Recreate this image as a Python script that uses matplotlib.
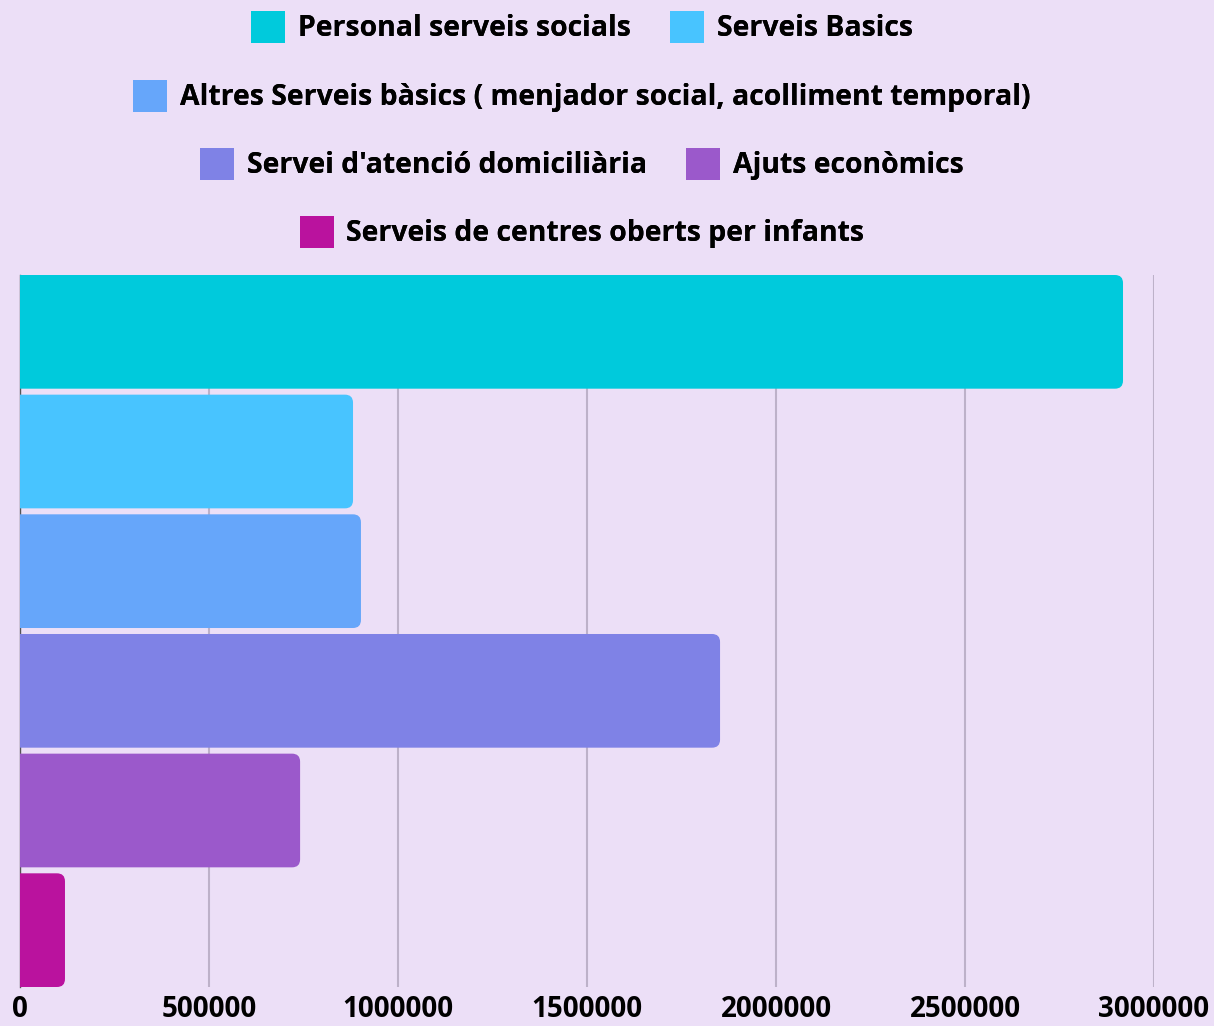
import matplotlib
matplotlib.use("Agg")
import matplotlib.pyplot as plt
from matplotlib.patches import FancyBboxPatch, Patch

categories = [
    "Personal serveis socials",
    "Serveis Basics",
    "Altres Serveis bàsics ( menjador social, acolliment temporal)",
    "Servei d'atenció domiciliària",
    "Ajuts econòmics",
    "Serveis de centres oberts per infants",
]
values = [2918000, 881000, 902000, 1852000, 741000, 119000]
colors = ["#00CADC", "#48C4FF", "#66A6FA", "#7F82E6", "#9B59CB", "#BA129E"]
tick_values = [0, 500000, 1000000, 1500000, 2000000, 2500000, 3000000]
tick_labels = ["0", "500000", "1000000", "1500000", "2000000", "2500000", "3000000"]
legend_rows = [[0, 1], [2], [3, 4], [5]]

BG = "#ECDFF7"
W, H, DPI = 1214, 1026, 100
FONT = ["Open Sans", "DejaVu Sans"]
plt.rcParams["font.family"] = FONT
plt.rcParams["font.weight"] = "bold"

fig = plt.figure(figsize=(W / DPI, H / DPI), dpi=DPI, facecolor=BG)
ax_l, ax_r, ax_t, ax_b = 20, 1154, 275, 987
ax = fig.add_axes([ax_l / W, 1 - ax_b / H, (ax_r - ax_l) / W, (ax_b - ax_t) / H])
ax.set_facecolor(BG)

n = len(categories)
ypos = list(range(n))
bar_h = 0.95
xmin, xmax = 0, 3000000
ymin, ymax = -0.475, n - 1 + 0.475
ax.set_xlim(xmin, xmax)
ax.set_ylim(ymax, ymin)  # inverted: first category on top

bars = ax.barh(ypos, values, height=bar_h, color=colors)

# rounded right corners
xpp = (xmax - xmin) / (ax_r - ax_l)
ypp = (ymax - ymin) / (ax_b - ax_t)
aspect = ypp / xpp
r = 8 * xpp
for b in bars:
    x, y, w, h = b.get_x(), b.get_y(), b.get_width(), b.get_height()
    fc = b.get_facecolor()
    b.set_visible(False)
    p = FancyBboxPatch((x - r, y), w + r, h,
                       boxstyle=f"round,pad=0,rounding_size={r}",
                       mutation_aspect=aspect, facecolor=fc, edgecolor="none",
                       zorder=2)
    ax.add_patch(p)

ax.set_xticks(tick_values)
ax.set_xticklabels(tick_labels, fontsize=20, fontweight="bold", family=FONT)
ax.set_yticks([])
ax.tick_params(axis="x", length=0, pad=6)
ax.grid(axis="x", color="#BDB1C9", linewidth=1.5, zorder=0)
ax.set_axisbelow(True)
for s in ["top", "right", "bottom"]:
    ax.spines[s].set_visible(False)
ax.spines["left"].set_color("#555555")
ax.spines["left"].set_linewidth(1.0)
ax.spines["left"].set_zorder(1)

# legend rows
row_y = [27, 96, 164, 232]
fs = 20.4
em = fs * DPI / 72
for row, yc in zip(legend_rows, row_y):
    handles = [Patch(facecolor=colors[i], edgecolor="none") for i in row]
    labels = [categories[i] for i in row]
    leg = fig.legend(handles, labels, loc="center",
                     bbox_to_anchor=(582 / W, 1 - yc / H),
                     bbox_transform=fig.transFigure,
                     ncol=len(row), frameon=False,
                     prop={"family": FONT, "weight": "bold", "size": fs},
                     handlelength=34 / em, handleheight=38 / em,
                     handletextpad=13 / em, columnspacing=39 / em,
                     borderpad=0, borderaxespad=0)
    fig.add_artist(leg)

fig.savefig("out.png", dpi=DPI, facecolor=BG)
